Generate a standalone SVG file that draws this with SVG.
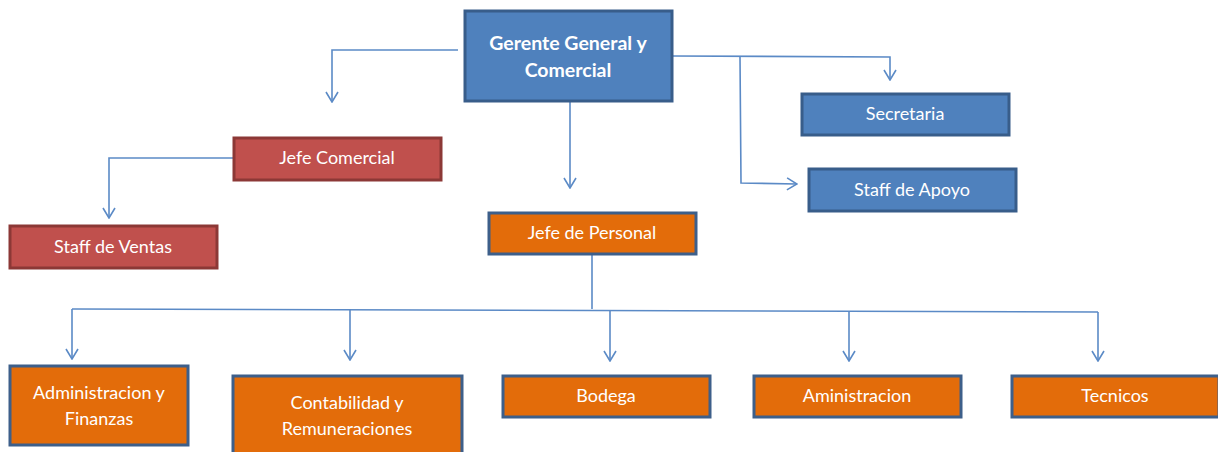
<svg xmlns="http://www.w3.org/2000/svg" width="1218" height="452" viewBox="0 0 1218 452">
<style>
.lbl{font-family:Lato,"Open Sans","Liberation Sans",sans-serif;font-size:18px;fill:#ffffff;text-anchor:middle}
.b{font-weight:bold;font-size:19.5px}
.blue{fill:#4f81bd;stroke:#385d8a;stroke-width:3}
.red{fill:#c0504d;stroke:#8c3836;stroke-width:3}
.org{fill:#e36c0a;stroke:#3d5f8a;stroke-width:3}
.con{fill:none;stroke:#5b8ac6;stroke-width:1.6}
</style>
<defs>
<marker id="arr" viewBox="0 0 12 14" refX="11" refY="7" markerWidth="12" markerHeight="14" markerUnits="userSpaceOnUse" orient="auto">
<path d="M1,1 L11,7 L1,13" fill="none" stroke="#5b8ac6" stroke-width="1.6"/>
</marker>
</defs>
<g id="connectors">
<path class="con" d="M458,50 L332,50 L332,102" marker-end="url(#arr)"/>
<path class="con" d="M570,101 L570,188" marker-end="url(#arr)"/>
<path class="con" d="M672,56 L890,57 L890,80" marker-end="url(#arr)"/>
<path class="con" d="M740,57 L741,183 L797,184" marker-end="url(#arr)"/>
<path class="con" d="M233,158 L109,158 L109,218" marker-end="url(#arr)"/>
<path class="con" d="M592,254 L592,309"/>
<path class="con" d="M72,309 L1098,312"/>
<path class="con" d="M72,309 L72,359" marker-end="url(#arr)"/>
<path class="con" d="M350,310 L350,360" marker-end="url(#arr)"/>
<path class="con" d="M610,311 L610,361" marker-end="url(#arr)"/>
<path class="con" d="M849,311 L849,361" marker-end="url(#arr)"/>
<path class="con" d="M1098,312 L1098,361" marker-end="url(#arr)"/>
</g>
<g id="gerente"><rect class="blue" x="465" y="11" width="207" height="90"/><text class="lbl b" x="568" y="50">Gerente General y</text><text class="lbl b" x="568" y="77">Comercial</text></g>
<g id="secretaria"><rect class="blue" x="802" y="94" width="207" height="41"/><text class="lbl" x="905" y="120">Secretaria</text></g>
<g id="staffapoyo"><rect class="blue" x="809" y="169" width="207" height="42"/><text class="lbl" x="912" y="196">Staff de Apoyo</text></g>
<g id="jefecomercial"><rect class="red" x="234" y="138" width="207" height="42"/><text class="lbl" x="337" y="164">Jefe Comercial</text></g>
<g id="staffventas"><rect class="red" x="10" y="226" width="207" height="42"/><text class="lbl" x="113" y="253">Staff de Ventas</text></g>
<g id="jefepersonal"><rect class="org" x="489" y="213" width="207" height="41"/><text class="lbl" x="592" y="239">Jefe de Personal</text></g>
<g id="admfin"><rect class="org" x="10" y="366" width="178" height="79"/><text class="lbl" x="99" y="399">Administracion y</text><text class="lbl" x="99" y="425">Finanzas</text></g>
<g id="contab"><rect class="org" x="233" y="376" width="229" height="80"/><text class="lbl" x="347" y="409">Contabilidad y</text><text class="lbl" x="347" y="435">Remuneraciones</text></g>
<g id="bodega"><rect class="org" x="503" y="376" width="207" height="41"/><text class="lbl" x="606" y="402">Bodega</text></g>
<g id="aministracion"><rect class="org" x="754" y="376" width="207" height="41"/><text class="lbl" x="857" y="402">Aministracion</text></g>
<g id="tecnicos"><rect class="org" x="1012" y="376" width="207" height="41"/><text class="lbl" x="1115" y="402">Tecnicos</text></g>
</svg>
